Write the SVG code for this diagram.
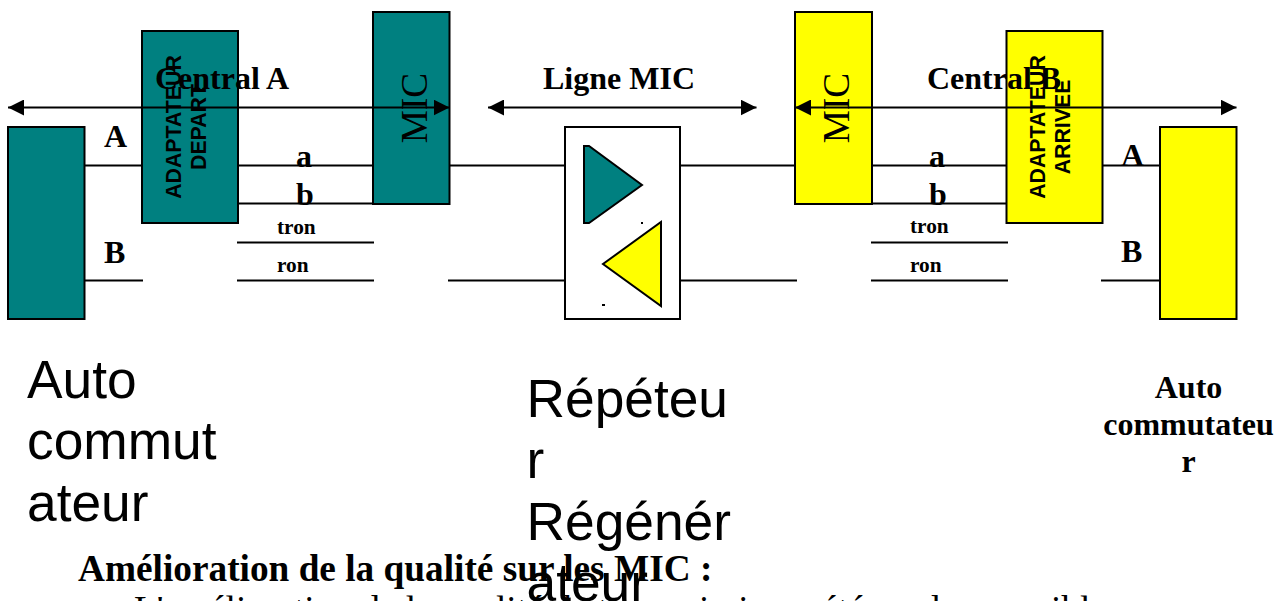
<svg xmlns="http://www.w3.org/2000/svg" width="1276" height="601" viewBox="0 0 1276 601">
<style>
.s{font-family:"Liberation Serif",serif;font-weight:bold;fill:#000}
.a{font-family:"Liberation Sans",sans-serif;fill:#000}
.v{font-family:"Liberation Sans",sans-serif;font-weight:bold;font-size:21.300px;fill:#000}
.m{font-family:"Liberation Serif",serif;font-size:37.300px;fill:#000}
.box{stroke:#000;stroke-width:2}
.teal{fill:#008080}.yel{fill:#ffff00}
.l{stroke:#000;stroke-width:2;fill:none}
</style>
<defs>
<marker id="ah" markerUnits="userSpaceOnUse" markerWidth="16" markerHeight="16" refX="16" refY="8" orient="auto-start-reverse"><path d="M0 0L16 8L0 16Z" fill="#000"/></marker>
</defs>
<g id="connectors">
<path class="l" d="M85 165.500H142M85 280.500H143M238 165.500H373M238 203.500H373M237 242.500H374M237 280.500H374M450 165.500H565M448 280.500H565M680 165.500H795M680 280.500H797M872 165.500H1007M872 203.500H1007M871 242.500H1008M871 280.500H1008M1102 165.500H1160M1101 280.500H1160"/>
</g>
<g id="auto-a"><rect class="box teal" x="8" y="127" width="76.500" height="192"/></g>
<g id="adapt-a"><rect class="box teal" x="142" y="31" width="96" height="192"/>
<text class="v" transform="translate(181,127) rotate(-90)" text-anchor="middle">ADAPTATEUR</text>
<text class="v" transform="translate(205.500,127) rotate(-90)" text-anchor="middle">DEPART</text></g>
<g id="mic-a"><rect class="box teal" x="373" y="12" width="76.500" height="192"/>
<text class="m" transform="translate(427,108) rotate(-90)" text-anchor="middle">MIC</text></g>
<g id="repeteur"><rect x="565" y="127" width="115" height="192" fill="#fff" stroke="#000" stroke-width="2"/>
<path class="teal" stroke="#000" stroke-width="2" d="M584 146H589L642 185L589 223H584Z"/>
<path class="yel" stroke="#000" stroke-width="2" d="M661 222V306L603 264Z"/>
<rect x="641" y="222" width="2" height="2" fill="#000"/><rect x="602" y="304" width="3" height="2" fill="#000"/></g>
<g id="mic-b"><rect class="box yel" x="795" y="12" width="77" height="192"/>
<text class="m" transform="translate(849,108) rotate(-90)" text-anchor="middle">MIC</text></g>
<g id="adapt-b"><rect class="box yel" x="1006.500" y="31" width="96" height="192"/>
<text class="v" transform="translate(1045,127) rotate(-90)" text-anchor="middle">ADAPTATEUR</text>
<text class="v" transform="translate(1069.500,127) rotate(-90)" text-anchor="middle">ARRIVEE</text></g>
<g id="auto-b"><rect class="box yel" x="1160" y="127" width="76.500" height="192"/></g>
<g id="arrows">
<path class="l" marker-start="url(#ah)" marker-end="url(#ah)" d="M8 107.500H449.500"/>
<path class="l" marker-start="url(#ah)" marker-end="url(#ah)" d="M488 107.500H756.500"/>
<path class="l" marker-start="url(#ah)" marker-end="url(#ah)" d="M795 107.500H1236.500"/>
</g>
<g id="labels">
<text class="s" font-size="32" x="155" y="89">Central A</text>
<text class="s" font-size="32" x="543" y="89">Ligne MIC</text>
<text class="s" font-size="32" x="927" y="89">Central B</text>
<text class="s" font-size="32" x="104" y="147">A</text>
<text class="s" font-size="32" x="104" y="263">B</text>
<text class="s" font-size="32" x="1121" y="166">A</text>
<text class="s" font-size="32" x="1121" y="262">B</text>
<text class="s" font-size="32" x="296" y="167">a</text>
<text class="s" font-size="32" x="296" y="205">b</text>
<text class="s" font-size="32" x="929" y="167">a</text>
<text class="s" font-size="32" x="929" y="205">b</text>
<text class="s" font-size="21.300" x="277" y="234">tron</text>
<text class="s" font-size="21.300" x="277" y="272">ron</text>
<text class="s" font-size="21.300" x="910" y="233">tron</text>
<text class="s" font-size="21.300" x="910" y="272">ron</text>
<text class="a" font-size="53.300" x="27" y="398">Auto</text>
<text class="a" font-size="53.300" x="27" y="459">commut</text>
<text class="a" font-size="53.300" x="27" y="520.500">ateur</text>
<text class="a" font-size="53.300" x="526.500" y="417">Répéteu</text>
<text class="a" font-size="53.300" x="526.500" y="478">r</text>
<text class="a" font-size="53.300" x="526.500" y="539.500">Régénér</text>
<text class="a" font-size="53.300" x="526.500" y="601">ateur</text>
<text class="s" font-size="32" x="1188.500" y="397.500" text-anchor="middle">Auto</text>
<text class="s" font-size="32" x="1188.500" y="434.500" text-anchor="middle">commutateu</text>
<text class="s" font-size="32" x="1188.500" y="471.500" text-anchor="middle">r</text>
<text class="s" font-size="37.300" x="78" y="580.500">Amélioration de la qualité sur les MIC :</text>
<text font-family="Liberation Serif, serif" font-size="37.300" x="134" y="622">L'amélioration de la qualité de transmission a été rendue possible</text>
</g>
</svg>
